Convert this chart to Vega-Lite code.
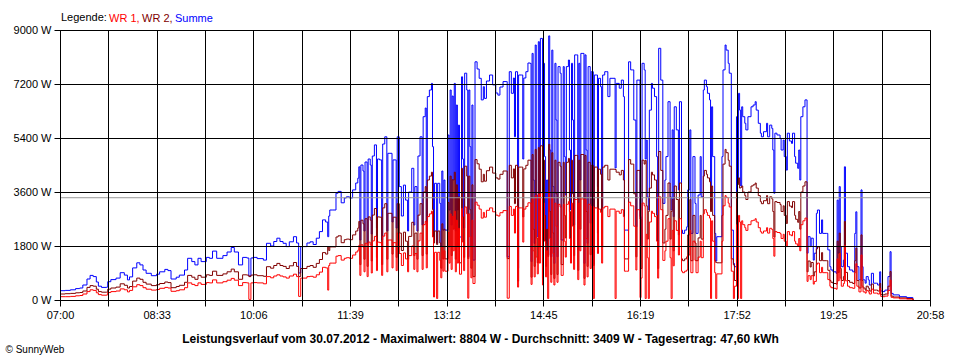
{
"$schema": "https://vega.github.io/schema/vega-lite/v6.json",
"width": 870, "height": 270,
"autosize": "none",
"padding": {"left": 60, "top": 30, "right": 30, "bottom": 60},
"background": "white",
"config": {"font": "Liberation Sans", "view": {"stroke": "#000000", "strokeWidth": 1}},
"datasets": {
"avg": [{"Durchschnitt": 3409}],
"power": [
{"t":"07:00","WR 1":110,"WR 2":200,"Summe":310},
{"t":"07:05","WR 1":110,"WR 2":210,"Summe":320},
{"t":"07:10","WR 1":120,"WR 2":220,"Summe":340},
{"t":"07:15","WR 1":140,"WR 2":240,"Summe":380},
{"t":"07:19","WR 1":150,"WR 2":250,"Summe":400},
{"t":"07:22","WR 1":200,"WR 2":300,"Summe":500},
{"t":"07:26","WR 1":280,"WR 2":420,"Summe":700},
{"t":"07:29","WR 1":340,"WR 2":480,"Summe":820},
{"t":"07:32","WR 1":320,"WR 2":460,"Summe":780},
{"t":"07:35","WR 1":240,"WR 2":360,"Summe":600},
{"t":"07:37","WR 1":180,"WR 2":280,"Summe":460},
{"t":"07:40","WR 1":160,"WR 2":260,"Summe":420},
{"t":"07:45","WR 1":170,"WR 2":260,"Summe":430},
{"t":"07:46","WR 1":250,"WR 2":360,"Summe":610},
{"t":"07:49","WR 1":280,"WR 2":400,"Summe":680},
{"t":"07:54","WR 1":300,"WR 2":430,"Summe":730},
{"t":"07:58","WR 1":370,"WR 2":540,"Summe":910},
{"t":"08:02","WR 1":340,"WR 2":490,"Summe":830},
{"t":"08:05","WR 1":270,"WR 2":400,"Summe":670},
{"t":"08:07","WR 1":320,"WR 2":450,"Summe":770},
{"t":"08:10","WR 1":440,"WR 2":630,"Summe":1070},
{"t":"08:14","WR 1":510,"WR 2":730,"Summe":1240},
{"t":"08:17","WR 1":480,"WR 2":690,"Summe":1170},
{"t":"08:20","WR 1":410,"WR 2":590,"Summe":1000},
{"t":"08:23","WR 1":360,"WR 2":530,"Summe":890},
{"t":"08:28","WR 1":330,"WR 2":480,"Summe":810},
{"t":"08:33","WR 1":350,"WR 2":510,"Summe":860},
{"t":"08:36","WR 1":390,"WR 2":550,"Summe":940},
{"t":"08:41","WR 1":420,"WR 2":600,"Summe":1020},
{"t":"08:44","WR 1":400,"WR 2":580,"Summe":980},
{"t":"08:47","WR 1":290,"WR 2":410,"Summe":700},
{"t":"08:52","WR 1":310,"WR 2":450,"Summe":760},
{"t":"08:55","WR 1":340,"WR 2":490,"Summe":830},
{"t":"09:00","WR 1":410,"WR 2":590,"Summe":1000},
{"t":"09:03","WR 1":570,"WR 2":820,"Summe":1390},
{"t":"09:07","WR 1":520,"WR 2":760,"Summe":1280},
{"t":"09:10","WR 1":480,"WR 2":690,"Summe":1170},
{"t":"09:13","WR 1":570,"WR 2":820,"Summe":1390},
{"t":"09:16","WR 1":520,"WR 2":760,"Summe":1280},
{"t":"09:21","WR 1":580,"WR 2":840,"Summe":1420},
{"t":"09:24","WR 1":570,"WR 2":820,"Summe":1390},
{"t":"09:27","WR 1":670,"WR 2":960,"Summe":1630},
{"t":"09:31","WR 1":570,"WR 2":820,"Summe":1390},
{"t":"09:37","WR 1":610,"WR 2":870,"Summe":1480},
{"t":"09:41","WR 1":660,"WR 2":940,"Summe":1600},
{"t":"09:45","WR 1":720,"WR 2":1030,"Summe":1750},
{"t":"09:48","WR 1":660,"WR 2":940,"Summe":1600},
{"t":"09:52","WR 1":480,"WR 2":690,"Summe":1170},
{"t":"09:56","WR 1":580,"WR 2":840,"Summe":1420},
{"t":"10:00","WR 1":570,"WR 2":830,"Summe":1400},
{"t":"10:02","WR 1":20,"WR 2":780,"Summe":800},
{"t":"10:04","WR 1":570,"WR 2":830,"Summe":1400},
{"t":"10:06","WR 1":580,"WR 2":840,"Summe":1420},
{"t":"10:10","WR 1":570,"WR 2":810,"Summe":1380},
{"t":"10:16","WR 1":540,"WR 2":790,"Summe":1330},
{"t":"10:19","WR 1":780,"WR 2":1110,"Summe":1890},
{"t":"10:23","WR 1":740,"WR 2":1060,"Summe":1800},
{"t":"10:26","WR 1":800,"WR 2":1150,"Summe":1950},
{"t":"10:29","WR 1":840,"WR 2":1220,"Summe":2060},
{"t":"10:32","WR 1":800,"WR 2":1150,"Summe":1950},
{"t":"10:35","WR 1":770,"WR 2":1120,"Summe":1890},
{"t":"10:38","WR 1":730,"WR 2":1050,"Summe":1780},
{"t":"10:41","WR 1":800,"WR 2":1140,"Summe":1940},
{"t":"10:45","WR 1":860,"WR 2":1250,"Summe":2110},
{"t":"10:48","WR 1":780,"WR 2":1120,"Summe":1900},
{"t":"10:50","WR 1":120,"WR 2":780,"Summe":900},
{"t":"10:52","WR 1":730,"WR 2":1050,"Summe":1780},
{"t":"10:54","WR 1":730,"WR 2":1050,"Summe":1780},
{"t":"10:58","WR 1":780,"WR 2":1120,"Summe":1900},
{"t":"11:01","WR 1":790,"WR 2":1150,"Summe":1940},
{"t":"11:04","WR 1":760,"WR 2":1090,"Summe":1850},
{"t":"11:07","WR 1":840,"WR 2":1220,"Summe":2060},
{"t":"11:10","WR 1":930,"WR 2":1350,"Summe":2280},
{"t":"11:13","WR 1":1090,"WR 2":1580,"Summe":2670},
{"t":"11:16","WR 1":1070,"WR 2":1530,"Summe":2600},
{"t":"11:18","WR 1":330,"WR 2":1780,"Summe":2110},
{"t":"11:19","WR 1":1150,"WR 2":1650,"Summe":2800},
{"t":"11:20","WR 1":1230,"WR 2":1770,"Summe":3000},
{"t":"11:23","WR 1":1230,"WR 2":1770,"Summe":3000},
{"t":"11:26","WR 1":1460,"WR 2":2100,"Summe":3560},
{"t":"11:28","WR 1":1480,"WR 2":2140,"Summe":3620},
{"t":"11:31","WR 1":1330,"WR 2":1910,"Summe":3240},
{"t":"11:34","WR 1":1390,"WR 2":2010,"Summe":3400},
{"t":"11:36","WR 1":1410,"WR 2":2030,"Summe":3440},
{"t":"11:39","WR 1":1390,"WR 2":2010,"Summe":3400},
{"t":"11:42","WR 1":1500,"WR 2":2170,"Summe":3670},
{"t":"11:45","WR 1":1600,"WR 2":2300,"Summe":3900},
{"t":"11:47","WR 1":1660,"WR 2":2400,"Summe":4060},
{"t":"11:48","WR 1":1820,"WR 2":2620,"Summe":4440},
{"t":"11:49","WR 1":820,"WR 2":1180,"Summe":2000},
{"t":"11:50","WR 1":1840,"WR 2":2660,"Summe":4500},
{"t":"11:52","WR 1":1760,"WR 2":2540,"Summe":4300},
{"t":"11:53","WR 1":940,"WR 2":1360,"Summe":2300},
{"t":"11:54","WR 1":1890,"WR 2":2710,"Summe":4600},
{"t":"11:56","WR 1":780,"WR 2":1120,"Summe":1900},
{"t":"11:57","WR 1":1930,"WR 2":2770,"Summe":4700},
{"t":"11:59","WR 1":1840,"WR 2":2660,"Summe":4500},
{"t":"12:00","WR 1":900,"WR 2":1300,"Summe":2200},
{"t":"12:01","WR 1":1970,"WR 2":2830,"Summe":4800},
{"t":"12:03","WR 1":2120,"WR 2":3050,"Summe":5170},
{"t":"12:05","WR 1":980,"WR 2":1420,"Summe":2400},
{"t":"12:06","WR 1":1930,"WR 2":2770,"Summe":4700},
{"t":"12:08","WR 1":1910,"WR 2":2760,"Summe":4670},
{"t":"12:10","WR 1":820,"WR 2":1180,"Summe":2000},
{"t":"12:11","WR 1":2130,"WR 2":3070,"Summe":5200},
{"t":"12:13","WR 1":2230,"WR 2":3210,"Summe":5440},
{"t":"12:15","WR 1":940,"WR 2":1360,"Summe":2300},
{"t":"12:16","WR 1":2000,"WR 2":2890,"Summe":4890},
{"t":"12:18","WR 1":2000,"WR 2":2890,"Summe":4890},
{"t":"12:20","WR 1":1070,"WR 2":1530,"Summe":2600},
{"t":"12:21","WR 1":1910,"WR 2":2760,"Summe":4670},
{"t":"12:23","WR 1":1910,"WR 2":2760,"Summe":4670},
{"t":"12:24","WR 1":980,"WR 2":1420,"Summe":2400},
{"t":"12:25","WR 1":2230,"WR 2":3210,"Summe":5440},
{"t":"12:27","WR 1":1550,"WR 2":2230,"Summe":3780},
{"t":"12:29","WR 1":1150,"WR 2":1650,"Summe":2800},
{"t":"12:31","WR 1":1570,"WR 2":2260,"Summe":3830},
{"t":"12:33","WR 1":1370,"WR 2":1960,"Summe":3330},
{"t":"12:35","WR 1":940,"WR 2":1360,"Summe":2300},
{"t":"12:36","WR 1":1480,"WR 2":2120,"Summe":3600},
{"t":"12:39","WR 1":1800,"WR 2":2590,"Summe":4390},
{"t":"12:41","WR 1":1020,"WR 2":1480,"Summe":2500},
{"t":"12:42","WR 1":1550,"WR 2":2230,"Summe":3780},
{"t":"12:44","WR 1":940,"WR 2":1360,"Summe":2300},
{"t":"12:45","WR 1":1970,"WR 2":2830,"Summe":4800},
{"t":"12:47","WR 1":2230,"WR 2":3210,"Summe":5440},
{"t":"12:49","WR 1":1020,"WR 2":1480,"Summe":2500},
{"t":"12:50","WR 1":2510,"WR 2":3600,"Summe":6110},
{"t":"12:52","WR 1":2620,"WR 2":3780,"Summe":6400},
{"t":"12:53","WR 1":1070,"WR 2":1530,"Summe":2600},
{"t":"12:54","WR 1":2780,"WR 2":4000,"Summe":6780},
{"t":"12:56","WR 1":2870,"WR 2":4130,"Summe":7000},
{"t":"12:58","WR 1":2960,"WR 2":4260,"Summe":7220},
{"t":"12:59","WR 1":2100,"WR 2":3010,"Summe":5110},
{"t":"13:00","WR 1":100,"WR 2":1900,"Summe":2000},
{"t":"13:01","WR 1":1590,"WR 2":2300,"Summe":3890},
{"t":"13:03","WR 1":50,"WR 2":1850,"Summe":1900},
{"t":"13:04","WR 1":1590,"WR 2":2300,"Summe":3890},
{"t":"13:06","WR 1":1320,"WR 2":1900,"Summe":3220},
{"t":"13:07","WR 1":740,"WR 2":1060,"Summe":1800},
{"t":"13:08","WR 1":1760,"WR 2":2540,"Summe":4300},
{"t":"13:09","WR 1":960,"WR 2":1370,"Summe":2330},
{"t":"13:10","WR 1":1640,"WR 2":2360,"Summe":4000},
{"t":"13:11","WR 1":960,"WR 2":1370,"Summe":2330},
{"t":"13:14","WR 1":2250,"WR 2":3250,"Summe":5500},
{"t":"13:15","WR 1":1230,"WR 2":1770,"Summe":3000},
{"t":"13:16","WR 1":2870,"WR 2":4130,"Summe":7000},
{"t":"13:17","WR 1":1020,"WR 2":1480,"Summe":2500},
{"t":"13:18","WR 1":2790,"WR 2":4010,"Summe":6800},
{"t":"13:19","WR 1":1640,"WR 2":2360,"Summe":4000},
{"t":"13:20","WR 1":2960,"WR 2":4260,"Summe":7220},
{"t":"13:21","WR 1":940,"WR 2":1360,"Summe":2300},
{"t":"13:22","WR 1":2660,"WR 2":3840,"Summe":6500},
{"t":"13:23","WR 1":1230,"WR 2":1770,"Summe":3000},
{"t":"13:24","WR 1":2390,"WR 2":3440,"Summe":5830},
{"t":"13:25","WR 1":860,"WR 2":1240,"Summe":2100},
{"t":"13:27","WR 1":3050,"WR 2":4390,"Summe":7440},
{"t":"13:28","WR 1":1930,"WR 2":2770,"Summe":4700},
{"t":"13:29","WR 1":980,"WR 2":1420,"Summe":2400},
{"t":"13:30","WR 1":3100,"WR 2":4460,"Summe":7560},
{"t":"13:32","WR 1":2870,"WR 2":4130,"Summe":7000},
{"t":"13:33","WR 1":60,"WR 2":1380,"Summe":1440},
{"t":"13:34","WR 1":2870,"WR 2":4130,"Summe":7000},
{"t":"13:35","WR 1":2100,"WR 2":3010,"Summe":5110},
{"t":"13:36","WR 1":740,"WR 2":1060,"Summe":1800},
{"t":"13:37","WR 1":2660,"WR 2":3840,"Summe":6500},
{"t":"13:38","WR 1":550,"WR 2":780,"Summe":1330},
{"t":"13:40","WR 1":3260,"WR 2":4680,"Summe":7940},
{"t":"13:42","WR 1":3160,"WR 2":4540,"Summe":7700},
{"t":"13:44","WR 1":3030,"WR 2":4360,"Summe":7390},
{"t":"13:46","WR 1":2730,"WR 2":3940,"Summe":6670},
{"t":"13:48","WR 1":2920,"WR 2":4190,"Summe":7110},
{"t":"13:49","WR 1":2760,"WR 2":3960,"Summe":6720},
{"t":"13:51","WR 1":2990,"WR 2":4310,"Summe":7300},
{"t":"13:54","WR 1":3070,"WR 2":4430,"Summe":7500},
{"t":"13:57","WR 1":2940,"WR 2":4230,"Summe":7170},
{"t":"14:00","WR 1":2830,"WR 2":4070,"Summe":6900},
{"t":"14:02","WR 1":2800,"WR 2":4030,"Summe":6830},
{"t":"14:04","WR 1":2910,"WR 2":4190,"Summe":7100},
{"t":"14:07","WR 1":2980,"WR 2":4300,"Summe":7280},
{"t":"14:10","WR 1":2980,"WR 2":4300,"Summe":7280},
{"t":"14:11","WR 1":60,"WR 2":1380,"Summe":1440},
{"t":"14:13","WR 1":3120,"WR 2":4490,"Summe":7610},
{"t":"14:15","WR 1":2820,"WR 2":4070,"Summe":6890},
{"t":"14:17","WR 1":3030,"WR 2":4370,"Summe":7400},
{"t":"14:18","WR 1":2230,"WR 2":3210,"Summe":5440},
{"t":"14:19","WR 1":3120,"WR 2":4490,"Summe":7610},
{"t":"14:21","WR 1":430,"WR 2":630,"Summe":1060},
{"t":"14:22","WR 1":3070,"WR 2":4430,"Summe":7500},
{"t":"14:25","WR 1":3070,"WR 2":4430,"Summe":7500},
{"t":"14:26","WR 1":1930,"WR 2":2770,"Summe":4700},
{"t":"14:27","WR 1":3030,"WR 2":4370,"Summe":7400},
{"t":"14:29","WR 1":3120,"WR 2":4490,"Summe":7610},
{"t":"14:31","WR 1":3240,"WR 2":4660,"Summe":7900},
{"t":"14:33","WR 1":3230,"WR 2":4660,"Summe":7890},
{"t":"14:34","WR 1":520,"WR 2":760,"Summe":1280},
{"t":"14:35","WR 1":3370,"WR 2":4850,"Summe":8220},
{"t":"14:36","WR 1":1640,"WR 2":2360,"Summe":4000},
{"t":"14:37","WR 1":770,"WR 2":1120,"Summe":1890},
{"t":"14:38","WR 1":3480,"WR 2":5020,"Summe":8500},
{"t":"14:39","WR 1":1430,"WR 2":2070,"Summe":3500},
{"t":"14:40","WR 1":870,"WR 2":1240,"Summe":2110},
{"t":"14:41","WR 1":3530,"WR 2":5080,"Summe":8610},
{"t":"14:42","WR 1":1230,"WR 2":1770,"Summe":3000},
{"t":"14:43","WR 1":3580,"WR 2":5140,"Summe":8720},
{"t":"14:45","WR 1":500,"WR 2":720,"Summe":1220},
{"t":"14:46","WR 1":3230,"WR 2":4660,"Summe":7890},
{"t":"14:47","WR 1":1960,"WR 2":2820,"Summe":4780},
{"t":"14:48","WR 1":770,"WR 2":1120,"Summe":1890},
{"t":"14:49","WR 1":1640,"WR 2":2360,"Summe":4000},
{"t":"14:50","WR 1":50,"WR 2":1450,"Summe":1500},
{"t":"14:51","WR 1":3614,"WR 2":5190,"Summe":8804},
{"t":"14:52","WR 1":2050,"WR 2":2950,"Summe":5000},
{"t":"14:53","WR 1":590,"WR 2":850,"Summe":1440},
{"t":"14:54","WR 1":3420,"WR 2":4910,"Summe":8330},
{"t":"14:55","WR 1":1550,"WR 2":2230,"Summe":3780},
{"t":"14:56","WR 1":500,"WR 2":720,"Summe":1220},
{"t":"14:57","WR 1":3230,"WR 2":4660,"Summe":7890},
{"t":"14:58","WR 1":2460,"WR 2":3540,"Summe":6000},
{"t":"14:59","WR 1":590,"WR 2":850,"Summe":1440},
{"t":"15:00","WR 1":3190,"WR 2":4590,"Summe":7780},
{"t":"15:02","WR 1":3100,"WR 2":4460,"Summe":7560},
{"t":"15:03","WR 1":820,"WR 2":1180,"Summe":2000},
{"t":"15:05","WR 1":3190,"WR 2":4590,"Summe":7780},
{"t":"15:06","WR 1":1960,"WR 2":2820,"Summe":4780},
{"t":"15:07","WR 1":1430,"WR 2":2070,"Summe":3500},
{"t":"15:08","WR 1":3190,"WR 2":4590,"Summe":7780},
{"t":"15:10","WR 1":3280,"WR 2":4720,"Summe":8000},
{"t":"15:11","WR 1":2050,"WR 2":2950,"Summe":5000},
{"t":"15:12","WR 1":1230,"WR 2":1770,"Summe":3000},
{"t":"15:13","WR 1":3230,"WR 2":4660,"Summe":7890},
{"t":"15:14","WR 1":2460,"WR 2":3540,"Summe":6000},
{"t":"15:15","WR 1":1020,"WR 2":1480,"Summe":2500},
{"t":"15:16","WR 1":3350,"WR 2":4820,"Summe":8170},
{"t":"15:18","WR 1":3350,"WR 2":4820,"Summe":8170},
{"t":"15:19","WR 1":680,"WR 2":990,"Summe":1670},
{"t":"15:20","WR 1":3230,"WR 2":4660,"Summe":7890},
{"t":"15:21","WR 1":1640,"WR 2":2360,"Summe":4000},
{"t":"15:22","WR 1":3370,"WR 2":4850,"Summe":8220},
{"t":"15:24","WR 1":3370,"WR 2":4850,"Summe":8220},
{"t":"15:25","WR 1":500,"WR 2":720,"Summe":1220},
{"t":"15:26","WR 1":3350,"WR 2":4820,"Summe":8170},
{"t":"15:27","WR 1":2050,"WR 2":2950,"Summe":5000},
{"t":"15:28","WR 1":770,"WR 2":1120,"Summe":1890},
{"t":"15:29","WR 1":3190,"WR 2":4590,"Summe":7780},
{"t":"15:31","WR 1":1050,"WR 2":1510,"Summe":2560},
{"t":"15:32","WR 1":3120,"WR 2":4490,"Summe":7610},
{"t":"15:34","WR 1":50,"WR 2":1150,"Summe":1200},
{"t":"15:35","WR 1":3070,"WR 2":4430,"Summe":7500},
{"t":"15:37","WR 1":3070,"WR 2":4430,"Summe":7500},
{"t":"15:38","WR 1":1550,"WR 2":2230,"Summe":3780},
{"t":"15:39","WR 1":3030,"WR 2":4360,"Summe":7390},
{"t":"15:41","WR 1":2920,"WR 2":4190,"Summe":7110},
{"t":"15:42","WR 1":1230,"WR 2":1770,"Summe":3000},
{"t":"15:43","WR 1":3070,"WR 2":4430,"Summe":7500},
{"t":"15:45","WR 1":3120,"WR 2":4490,"Summe":7610},
{"t":"15:47","WR 1":3120,"WR 2":4490,"Summe":7610},
{"t":"15:48","WR 1":2780,"WR 2":4000,"Summe":6780},
{"t":"15:50","WR 1":3030,"WR 2":4360,"Summe":7390},
{"t":"15:55","WR 1":50,"WR 2":4350,"Summe":4400},
{"t":"15:56","WR 1":2960,"WR 2":4260,"Summe":7220},
{"t":"15:59","WR 1":2890,"WR 2":4170,"Summe":7060},
{"t":"16:01","WR 1":3010,"WR 2":4320,"Summe":7330},
{"t":"16:03","WR 1":2780,"WR 2":4000,"Summe":6780},
{"t":"16:04","WR 1":960,"WR 2":1370,"Summe":2330},
{"t":"16:06","WR 1":960,"WR 2":1370,"Summe":2330},
{"t":"16:08","WR 1":3260,"WR 2":4680,"Summe":7940},
{"t":"16:10","WR 1":3140,"WR 2":4530,"Summe":7670},
{"t":"16:12","WR 1":3140,"WR 2":4530,"Summe":7670},
{"t":"16:13","WR 1":2460,"WR 2":3540,"Summe":6000},
{"t":"16:15","WR 1":1000,"WR 2":1440,"Summe":2440},
{"t":"16:16","WR 1":3010,"WR 2":4320,"Summe":7330},
{"t":"16:18","WR 1":3010,"WR 2":4320,"Summe":7330},
{"t":"16:19","WR 1":80,"WR 2":2700,"Summe":2780},
{"t":"16:20","WR 1":730,"WR 2":1050,"Summe":1780},
{"t":"16:21","WR 1":3230,"WR 2":4660,"Summe":7890},
{"t":"16:23","WR 1":3140,"WR 2":4530,"Summe":7670},
{"t":"16:24","WR 1":50,"WR 2":4650,"Summe":4700},
{"t":"16:25","WR 1":2190,"WR 2":3140,"Summe":5330},
{"t":"16:26","WR 1":1410,"WR 2":2030,"Summe":3440},
{"t":"16:27","WR 1":50,"WR 2":2950,"Summe":3000},
{"t":"16:28","WR 1":2600,"WR 2":3730,"Summe":6330},
{"t":"16:30","WR 1":2960,"WR 2":4260,"Summe":7220},
{"t":"16:31","WR 1":2890,"WR 2":4170,"Summe":7060},
{"t":"16:33","WR 1":2780,"WR 2":4000,"Summe":6780},
{"t":"16:35","WR 1":1960,"WR 2":2820,"Summe":4780},
{"t":"16:36","WR 1":730,"WR 2":1050,"Summe":1780},
{"t":"16:37","WR 1":3440,"WR 2":4950,"Summe":8390},
{"t":"16:39","WR 1":3010,"WR 2":4320,"Summe":7330},
{"t":"16:41","WR 1":1320,"WR 2":1900,"Summe":3220},
{"t":"16:43","WR 1":1640,"WR 2":2360,"Summe":4000},
{"t":"16:44","WR 1":1960,"WR 2":2820,"Summe":4780},
{"t":"16:46","WR 1":2710,"WR 2":3900,"Summe":6610},
{"t":"16:48","WR 1":1410,"WR 2":2030,"Summe":3440},
{"t":"16:49","WR 1":50,"WR 2":2950,"Summe":3000},
{"t":"16:50","WR 1":2320,"WR 2":3350,"Summe":5670},
{"t":"16:51","WR 1":1140,"WR 2":1640,"Summe":2780},
{"t":"16:52","WR 1":2640,"WR 2":3800,"Summe":6440},
{"t":"16:54","WR 1":2320,"WR 2":3350,"Summe":5670},
{"t":"16:56","WR 1":1500,"WR 2":2170,"Summe":3670},
{"t":"16:57","WR 1":2710,"WR 2":3900,"Summe":6610},
{"t":"16:59","WR 1":960,"WR 2":1370,"Summe":2330},
{"t":"17:00","WR 1":910,"WR 2":1310,"Summe":2220},
{"t":"17:02","WR 1":960,"WR 2":1370,"Summe":2330},
{"t":"17:04","WR 1":1000,"WR 2":1440,"Summe":2440},
{"t":"17:05","WR 1":1500,"WR 2":2170,"Summe":3670},
{"t":"17:07","WR 1":2320,"WR 2":3350,"Summe":5670},
{"t":"17:08","WR 1":910,"WR 2":1310,"Summe":2220},
{"t":"17:10","WR 1":1960,"WR 2":2820,"Summe":4780},
{"t":"17:12","WR 1":1320,"WR 2":1900,"Summe":3220},
{"t":"17:13","WR 1":910,"WR 2":1310,"Summe":2220},
{"t":"17:15","WR 1":1430,"WR 2":2070,"Summe":3500},
{"t":"17:17","WR 1":1960,"WR 2":2820,"Summe":4780},
{"t":"17:18","WR 1":1410,"WR 2":2030,"Summe":3440},
{"t":"17:20","WR 1":2870,"WR 2":4130,"Summe":7000},
{"t":"17:21","WR 1":3010,"WR 2":4320,"Summe":7330},
{"t":"17:23","WR 1":2920,"WR 2":4190,"Summe":7110},
{"t":"17:24","WR 1":2820,"WR 2":4070,"Summe":6890},
{"t":"17:26","WR 1":2730,"WR 2":3940,"Summe":6670},
{"t":"17:27","WR 1":50,"WR 2":2950,"Summe":3000},
{"t":"17:28","WR 1":2640,"WR 2":3800,"Summe":6440},
{"t":"17:29","WR 1":1960,"WR 2":2820,"Summe":4780},
{"t":"17:31","WR 1":910,"WR 2":1310,"Summe":2220},
{"t":"17:32","WR 1":50,"WR 2":1250,"Summe":1300},
{"t":"17:33","WR 1":870,"WR 2":1240,"Summe":2110},
{"t":"17:36","WR 1":870,"WR 2":1240,"Summe":2110},
{"t":"17:38","WR 1":1960,"WR 2":2820,"Summe":4780},
{"t":"17:39","WR 1":3140,"WR 2":4530,"Summe":7670},
{"t":"17:41","WR 1":3480,"WR 2":5020,"Summe":8500},
{"t":"17:42","WR 1":3420,"WR 2":4910,"Summe":8330},
{"t":"17:44","WR 1":3230,"WR 2":4660,"Summe":7890},
{"t":"17:45","WR 1":3100,"WR 2":4460,"Summe":7560},
{"t":"17:47","WR 1":960,"WR 2":1370,"Summe":2330},
{"t":"17:49","WR 1":50,"WR 2":1170,"Summe":1220},
{"t":"17:50","WR 1":460,"WR 2":650,"Summe":1110},
{"t":"17:52","WR 1":2510,"WR 2":3600,"Summe":6110},
{"t":"17:53","WR 1":50,"WR 2":3850,"Summe":3900},
{"t":"17:54","WR 1":2820,"WR 2":4070,"Summe":6890},
{"t":"17:55","WR 1":2600,"WR 2":3730,"Summe":6330},
{"t":"17:56","WR 1":50,"WR 2":3750,"Summe":3800},
{"t":"17:57","WR 1":2640,"WR 2":3800,"Summe":6440},
{"t":"17:58","WR 1":2510,"WR 2":3600,"Summe":6110},
{"t":"18:00","WR 1":2410,"WR 2":3480,"Summe":5890},
{"t":"18:01","WR 1":2320,"WR 2":3350,"Summe":5670},
{"t":"18:03","WR 1":2510,"WR 2":3600,"Summe":6110},
{"t":"18:06","WR 1":2640,"WR 2":3800,"Summe":6440},
{"t":"18:08","WR 1":2660,"WR 2":3840,"Summe":6500},
{"t":"18:10","WR 1":2710,"WR 2":3900,"Summe":6610},
{"t":"18:11","WR 1":2600,"WR 2":3730,"Summe":6330},
{"t":"18:13","WR 1":2410,"WR 2":3480,"Summe":5890},
{"t":"18:15","WR 1":2280,"WR 2":3280,"Summe":5560},
{"t":"18:16","WR 1":2230,"WR 2":3210,"Summe":5440},
{"t":"18:18","WR 1":2300,"WR 2":3310,"Summe":5610},
{"t":"18:21","WR 1":2410,"WR 2":3480,"Summe":5890},
{"t":"18:22","WR 1":2230,"WR 2":3210,"Summe":5440},
{"t":"18:24","WR 1":2390,"WR 2":3440,"Summe":5830},
{"t":"18:26","WR 1":2350,"WR 2":3370,"Summe":5720},
{"t":"18:27","WR 1":2050,"WR 2":2950,"Summe":5000},
{"t":"18:28","WR 1":1460,"WR 2":2100,"Summe":3560},
{"t":"18:29","WR 1":2280,"WR 2":3280,"Summe":5560},
{"t":"18:31","WR 1":2250,"WR 2":3250,"Summe":5500},
{"t":"18:34","WR 1":2210,"WR 2":3180,"Summe":5390},
{"t":"18:35","WR 1":2050,"WR 2":2950,"Summe":5000},
{"t":"18:37","WR 1":2190,"WR 2":3140,"Summe":5330},
{"t":"18:38","WR 1":1960,"WR 2":2820,"Summe":4780},
{"t":"18:40","WR 1":1780,"WR 2":2550,"Summe":4330},
{"t":"18:41","WR 1":2280,"WR 2":3280,"Summe":5560},
{"t":"18:43","WR 1":2170,"WR 2":3130,"Summe":5300},
{"t":"18:45","WR 1":2140,"WR 2":3080,"Summe":5220},
{"t":"18:46","WR 1":2280,"WR 2":3280,"Summe":5560},
{"t":"18:48","WR 1":1960,"WR 2":2820,"Summe":4780},
{"t":"18:49","WR 1":1870,"WR 2":2690,"Summe":4560},
{"t":"18:51","WR 1":1800,"WR 2":2590,"Summe":4390},
{"t":"18:52","WR 1":2050,"WR 2":2950,"Summe":5000},
{"t":"18:53","WR 1":1640,"WR 2":2360,"Summe":4000},
{"t":"18:54","WR 1":2510,"WR 2":3600,"Summe":6110},
{"t":"18:56","WR 1":2640,"WR 2":3800,"Summe":6440},
{"t":"18:58","WR 1":2730,"WR 2":3940,"Summe":6670},
{"t":"18:59","WR 1":2730,"WR 2":3940,"Summe":6670},
{"t":"19:00","WR 1":620,"WR 2":940,"Summe":1560},
{"t":"19:01","WR 1":810,"WR 2":1300,"Summe":2110},
{"t":"19:03","WR 1":680,"WR 2":1100,"Summe":1780},
{"t":"19:04","WR 1":810,"WR 2":1250,"Summe":2060},
{"t":"19:06","WR 1":530,"WR 2":800,"Summe":1330},
{"t":"19:07","WR 1":620,"WR 2":940,"Summe":1560},
{"t":"19:09","WR 1":1190,"WR 2":1700,"Summe":2890},
{"t":"19:10","WR 1":1230,"WR 2":1770,"Summe":3000},
{"t":"19:12","WR 1":910,"WR 2":1310,"Summe":2220},
{"t":"19:14","WR 1":1090,"WR 2":1580,"Summe":2670},
{"t":"19:15","WR 1":910,"WR 2":1310,"Summe":2220},
{"t":"19:19","WR 1":910,"WR 2":1310,"Summe":2220},
{"t":"19:20","WR 1":680,"WR 2":990,"Summe":1670},
{"t":"19:22","WR 1":460,"WR 2":650,"Summe":1110},
{"t":"19:23","WR 1":410,"WR 2":590,"Summe":1000},
{"t":"19:25","WR 1":390,"WR 2":550,"Summe":940},
{"t":"19:28","WR 1":360,"WR 2":530,"Summe":890},
{"t":"19:29","WR 1":1370,"WR 2":1960,"Summe":3330},
{"t":"19:30","WR 1":640,"WR 2":920,"Summe":1560},
{"t":"19:31","WR 1":1550,"WR 2":2230,"Summe":3780},
{"t":"19:32","WR 1":730,"WR 2":1050,"Summe":1780},
{"t":"19:33","WR 1":460,"WR 2":650,"Summe":1110},
{"t":"19:35","WR 1":550,"WR 2":780,"Summe":1330},
{"t":"19:36","WR 1":1820,"WR 2":2620,"Summe":4440},
{"t":"19:37","WR 1":640,"WR 2":920,"Summe":1560},
{"t":"19:39","WR 1":460,"WR 2":650,"Summe":1110},
{"t":"19:41","WR 1":410,"WR 2":590,"Summe":1000},
{"t":"19:44","WR 1":390,"WR 2":550,"Summe":940},
{"t":"19:46","WR 1":910,"WR 2":1310,"Summe":2220},
{"t":"19:47","WR 1":1210,"WR 2":1730,"Summe":2940},
{"t":"19:48","WR 1":460,"WR 2":650,"Summe":1110},
{"t":"19:50","WR 1":270,"WR 2":400,"Summe":670},
{"t":"19:52","WR 1":1500,"WR 2":2170,"Summe":3670},
{"t":"19:53","WR 1":460,"WR 2":650,"Summe":1110},
{"t":"19:54","WR 1":270,"WR 2":400,"Summe":670},
{"t":"19:56","WR 1":230,"WR 2":330,"Summe":560},
{"t":"19:57","WR 1":320,"WR 2":460,"Summe":780},
{"t":"19:59","WR 1":270,"WR 2":400,"Summe":670},
{"t":"20:00","WR 1":200,"WR 2":300,"Summe":500},
{"t":"20:02","WR 1":360,"WR 2":530,"Summe":890},
{"t":"20:04","WR 1":230,"WR 2":330,"Summe":560},
{"t":"20:07","WR 1":230,"WR 2":330,"Summe":560},
{"t":"20:08","WR 1":200,"WR 2":300,"Summe":500},
{"t":"20:10","WR 1":390,"WR 2":550,"Summe":940},
{"t":"20:11","WR 1":120,"WR 2":180,"Summe":300},
{"t":"20:13","WR 1":110,"WR 2":170,"Summe":280},
{"t":"20:15","WR 1":130,"WR 2":200,"Summe":330},
{"t":"20:18","WR 1":320,"WR 2":460,"Summe":780},
{"t":"20:20","WR 1":660,"WR 2":950,"Summe":1610},
{"t":"20:21","WR 1":90,"WR 2":130,"Summe":220},
{"t":"20:23","WR 1":70,"WR 2":100,"Summe":170},
{"t":"20:29","WR 1":40,"WR 2":70,"Summe":110},
{"t":"20:36","WR 1":30,"WR 2":50,"Summe":80},
{"t":"20:42","WR 1":0,"WR 2":0,"Summe":0},
{"t":"20:43","WR 1":0,"WR 2":0,"Summe":0}
]
},
"layer": [
{
"data": {"name": "power", "format": {"parse": {"t": "date:'%H:%M'"}}},
"transform": [{"fold": ["Summe", "WR 2", "WR 1"], "as": ["Serie", "W"]}],
"mark": {"type": "line", "strokeWidth": 1, "interpolate": "step-after"},
"encoding": {
"x": {"field": "t", "type": "temporal",
"scale": {"domain": [{"year":1900,"month":1,"date":1,"hours":7,"minutes":0,"seconds":0},{"year":1900,"month":1,"date":1,"hours":20,"minutes":58,"seconds":30}]},
"axis": {
"values": [
{"year":1900,"month":1,"date":1,"hours":7,"minutes":0,"seconds":0},
{"year":1900,"month":1,"date":1,"hours":7,"minutes":46,"seconds":35},
{"year":1900,"month":1,"date":1,"hours":8,"minutes":33,"seconds":10},
{"year":1900,"month":1,"date":1,"hours":9,"minutes":19,"seconds":45},
{"year":1900,"month":1,"date":1,"hours":10,"minutes":6,"seconds":20},
{"year":1900,"month":1,"date":1,"hours":10,"minutes":52,"seconds":55},
{"year":1900,"month":1,"date":1,"hours":11,"minutes":39,"seconds":30},
{"year":1900,"month":1,"date":1,"hours":12,"minutes":26,"seconds":5},
{"year":1900,"month":1,"date":1,"hours":13,"minutes":12,"seconds":40},
{"year":1900,"month":1,"date":1,"hours":13,"minutes":59,"seconds":15},
{"year":1900,"month":1,"date":1,"hours":14,"minutes":45,"seconds":50},
{"year":1900,"month":1,"date":1,"hours":15,"minutes":32,"seconds":25},
{"year":1900,"month":1,"date":1,"hours":16,"minutes":19,"seconds":0},
{"year":1900,"month":1,"date":1,"hours":17,"minutes":5,"seconds":35},
{"year":1900,"month":1,"date":1,"hours":17,"minutes":52,"seconds":10},
{"year":1900,"month":1,"date":1,"hours":18,"minutes":38,"seconds":45},
{"year":1900,"month":1,"date":1,"hours":19,"minutes":25,"seconds":20},
{"year":1900,"month":1,"date":1,"hours":20,"minutes":11,"seconds":55},
{"year":1900,"month":1,"date":1,"hours":20,"minutes":58,"seconds":30}
],
"labelExpr": "indexof(['07:00','08:33','10:06','11:39','13:12','14:45','16:19','17:52','19:25','20:58'], timeFormat(datum.value, '%H:%M')) >= 0 ? timeFormat(datum.value, '%H:%M') : ''",
"labelFlush": false, "labelOverlap": false,
"grid": true, "gridColor": "#000000", "gridOpacity": 1, "gridWidth": 1,
"domainColor": "#000000", "tickColor": "#000000", "tickSize": 6, "tickWidth": 1,
"labelColor": "#000000", "labelFontSize": 11, "labelPadding": 3, "labelFont": "Liberation Sans",
"title": "Leistungsverlauf vom 30.07.2012 - Maximalwert: 8804 W - Durchschnitt: 3409 W - Tagesertrag: 47,60 kWh",
"titleFont": "Liberation Sans", "titleFontSize": 12, "titleFontWeight": "bold", "titleColor": "#000000",
"titleX": 420, "titleY": 42, "titleAlign": "center", "titleBaseline": "alphabetic",
"zindex": 1
}
},
"y": {"field": "W", "type": "quantitative",
"scale": {"domain": [0, 9000], "nice": false},
"axis": {
"values": [0, 1800, 3600, 5400, 7200, 9000],
"labelExpr": "datum.value + ' W'",
"labelFlush": false,
"grid": true, "gridColor": "#000000", "gridOpacity": 1, "gridWidth": 1,
"domainColor": "#000000", "tickColor": "#000000", "tickSize": 6, "tickWidth": 1,
"labelColor": "#000000", "labelFontSize": 11, "labelPadding": 3, "labelFont": "Liberation Sans",
"title": "© SunnyWeb", "titleFont": "Liberation Sans", "titleFontSize": 10, "titleFontWeight": "normal", "titleColor": "#000000",
"titleAngle": 0, "titleX": -55, "titleY": 322, "titleAlign": "left", "titleBaseline": "alphabetic",
"zindex": 1
}
},
"color": {"field": "Serie", "type": "nominal",
"scale": {"domain": ["WR 1", "WR 2", "Summe"], "range": ["#ff0000", "#800000", "#0000ff"]},
"legend": {
"title": "Legende:", "orient": "none", "legendX": 1, "legendY": -17,
"direction": "horizontal", "titleOrient": "left",
"titleFont": "Liberation Sans", "titleFontSize": 11, "titleFontWeight": "normal", "titleColor": "#000000", "titlePadding": 0,
"labelFont": "Liberation Sans", "labelFontSize": 11, "labelOffset": -9,
"symbolType": "circle", "symbolSize": 1, "symbolStrokeWidth": 0, "symbolOpacity": 0, "columnPadding": 0, "padding": 0,
"labelExpr": "datum.label == 'Summe' ? datum.label : datum.label + ','",
"encode": {"labels": {"update": {"fill": {"signal": "scale('color', datum.value)"}}}}
}
}
}
},
{
"data": {"name": "avg"},
"mark": {"type": "rule", "color": "#999999", "strokeWidth": 1},
"encoding": {"y": {"field": "Durchschnitt", "type": "quantitative",
"axis": {
"values": [0, 1800, 3600, 5400, 7200, 9000],
"labelExpr": "datum.value + ' W'",
"labelFlush": false,
"grid": true, "gridColor": "#000000", "gridOpacity": 1, "gridWidth": 1,
"domainColor": "#000000", "tickColor": "#000000", "tickSize": 6, "tickWidth": 1,
"labelColor": "#000000", "labelFontSize": 11, "labelPadding": 3, "labelFont": "Liberation Sans",
"title": "© SunnyWeb", "titleFont": "Liberation Sans", "titleFontSize": 10, "titleFontWeight": "normal", "titleColor": "#000000",
"titleAngle": 0, "titleX": -55, "titleY": 322, "titleAlign": "left", "titleBaseline": "alphabetic",
"zindex": 1
}}}
}
]
}
